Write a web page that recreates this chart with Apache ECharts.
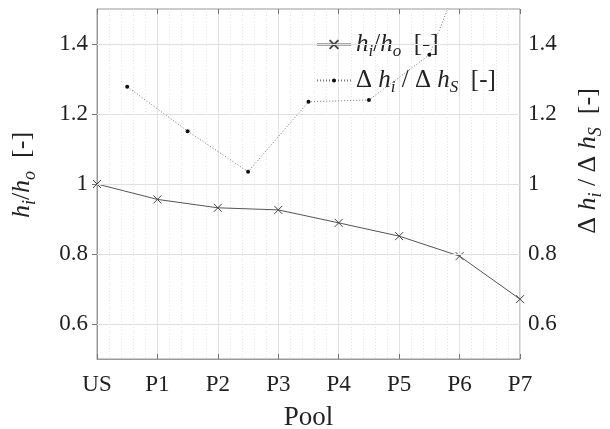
<!DOCTYPE html>
<html lang="en">
<head>
    <meta charset="UTF-8">
    <title>Pool</title>
    <script src="https://cdn.jsdelivr.net/npm/echarts@6/dist/echarts.min.js"></script>
</head>
<body style="margin:0">
<div id="echarts" style="width: 610px;height:429px"></div>
<script>
    var chartDom = document.getElementById('echarts');
    var myChart = echarts.init(chartDom);
    var option;

    var pools = ['US', 'P1', 'P2', 'P3', 'P4', 'P5', 'P6', 'P7'];
    var ratioX = [0, 1, 2, 3, 4, 5, 6, 7];
    var ratio = [1.0, 0.956, 0.932, 0.926, 0.889, 0.851, 0.794, 0.671];
    var deltaX = [0.5, 1.5, 2.5, 3.5, 4.5, 5.5, 6.5];
    var delta = [1.278, 1.151, 1.035, 1.235, 1.24, 1.369, 1.8];
    var yTicks = [0.6, 0.8, 1, 1.2, 1.4];

    var font = 'Liberation Serif';
    var rich = {
        it: { fontFamily: font, fontStyle: 'italic', fontSize: 26, color: '#222' },
        sub: { fontFamily: font, fontStyle: 'italic', fontSize: 18, color: '#222', verticalAlign: 'bottom', padding: [15, 0, 0, 0] },
        n: { fontFamily: font, fontSize: 26, color: '#222' }
    };
    var legRich = {
        it: { fontFamily: font, fontStyle: 'italic', fontSize: 25, color: '#222' },
        sub: { fontFamily: font, fontStyle: 'italic', fontSize: 17, color: '#222', verticalAlign: 'bottom', padding: [14, 0, 0, 0] },
        n: { fontFamily: font, fontSize: 25, color: '#222' }
    };
    var nameLeft = '{it|h}{sub|i}{n|/}{it|h}{sub|o}{n|  [-]}';
    var nameRight = '{n|Δ }{it|h}{sub|i}{n| / Δ }{it|h}{sub|S}{n|  [-]}';
    var xMark = 'path://M0,0L10,10M10,0L0,10';

    function pts(xs, ys) {
        return xs.map(function (x, i) { return [x, ys[i]]; });
    }

    var tickStyle = { show: true, inside: true, length: 5, lineStyle: { color: '#777' } };
    var yBase = {
        type: 'value',
        min: 0.5,
        max: 1.5,
        interval: 0.05,
        axisLine: { show: true, lineStyle: { color: '#999' } },
        axisTick: Object.assign({ customValues: yTicks }, tickStyle),
        axisLabel: {
            customValues: yTicks,
            fontFamily: font, fontSize: 23, color: '#222',
            formatter: function (v) { return String(Math.round(v * 10) / 10); }
        },
        nameLocation: 'middle'
    };

    option = {
        backgroundColor: '#ffffff',
        animation: false,
        grid: {
            left: 97, right: 90, top: 9, bottom: 70,
            outerBoundsMode: 'none', containLabel: false,
            show: true, borderColor: '#999', borderWidth: 1
        },
        legend: [{
            left: 311,
            top: 27,
            itemWidth: 34,
            itemHeight: 11,
            data: ['ratio'],
            formatter: function () { return nameLeft; },
            textStyle: { rich: legRich }
        }, {
            left: 311,
            top: 63,
            itemWidth: 34,
            itemHeight: 5,
            data: ['delta'],
            formatter: function () { return nameRight; },
            textStyle: { rich: legRich }
        }],
        xAxis: [{
            type: 'value',
            min: 0,
            max: 7,
            interval: 1,
            axisLine: { show: true, lineStyle: { color: '#999' } },
            axisTick: tickStyle,
            axisLabel: {
                margin: 14, fontFamily: font, fontSize: 23, color: '#222',
                formatter: function (v) { return pools[Math.round(v)]; }
            },
            splitLine: { show: true, lineStyle: { color: '#e2e2e2' } },
            minorTick: { show: false, splitNumber: 5 },
            minorSplitLine: { show: true, lineStyle: { color: '#e6e6e6', type: [1, 2] } },
            name: 'Pool',
            nameLocation: 'middle',
            nameGap: 45,
            nameTextStyle: { fontFamily: font, fontSize: 27, color: '#222' }
        }, {
            type: 'value',
            position: 'top',
            min: 0,
            max: 7,
            interval: 1,
            axisLine: { show: false },
            axisTick: tickStyle,
            axisLabel: { show: false },
            splitLine: { show: false }
        }],
        yAxis: [Object.assign({}, yBase, {
            position: 'left',
            name: nameLeft,
            nameGap: 58,
            nameTextStyle: { rich: rich, padding: [0, 0, 0, 18] },
            splitLine: { show: true, lineStyle: { color: '#e6e6e6', type: [1, 2] } },
            axisLabel: Object.assign({}, yBase.axisLabel, { margin: 9 })
        }), Object.assign({}, yBase, {
            position: 'right',
            name: nameRight,
            nameGap: 52,
            nameRotate: 90,
            nameTextStyle: { rich: rich, padding: [0, 0, 0, 46] },
            splitLine: { show: false },
            axisLabel: Object.assign({}, yBase.axisLabel, { margin: 8 })
        })],
        series: [{
            name: 'ratio',
            type: 'line',
            xAxisIndex: 0,
            yAxisIndex: 0,
            symbol: xMark,
            symbolSize: 8,
            itemStyle: { color: 'none', borderColor: '#444', borderWidth: 1 },
            lineStyle: { color: '#555', width: 1 },
            markLine: {
                silent: true,
                symbol: 'none',
                label: { show: false },
                lineStyle: { color: '#e0e0e0', width: 1, type: 'solid' },
                data: yTicks.map(function (v) { return { yAxis: v }; })
            },
            z: 3,
            data: pts(ratioX, ratio)
        }, {
            name: 'delta',
            type: 'line',
            xAxisIndex: 0,
            yAxisIndex: 1,
            symbol: 'circle',
            symbolSize: 4,
            itemStyle: { color: '#111', borderWidth: 0 },
            lineStyle: { color: '#777', width: 1, type: [1, 2] },
            z: 3,
            data: pts(deltaX, delta)
        }]
    };

    option && myChart.setOption(option);
</script>
</body>
</html>
